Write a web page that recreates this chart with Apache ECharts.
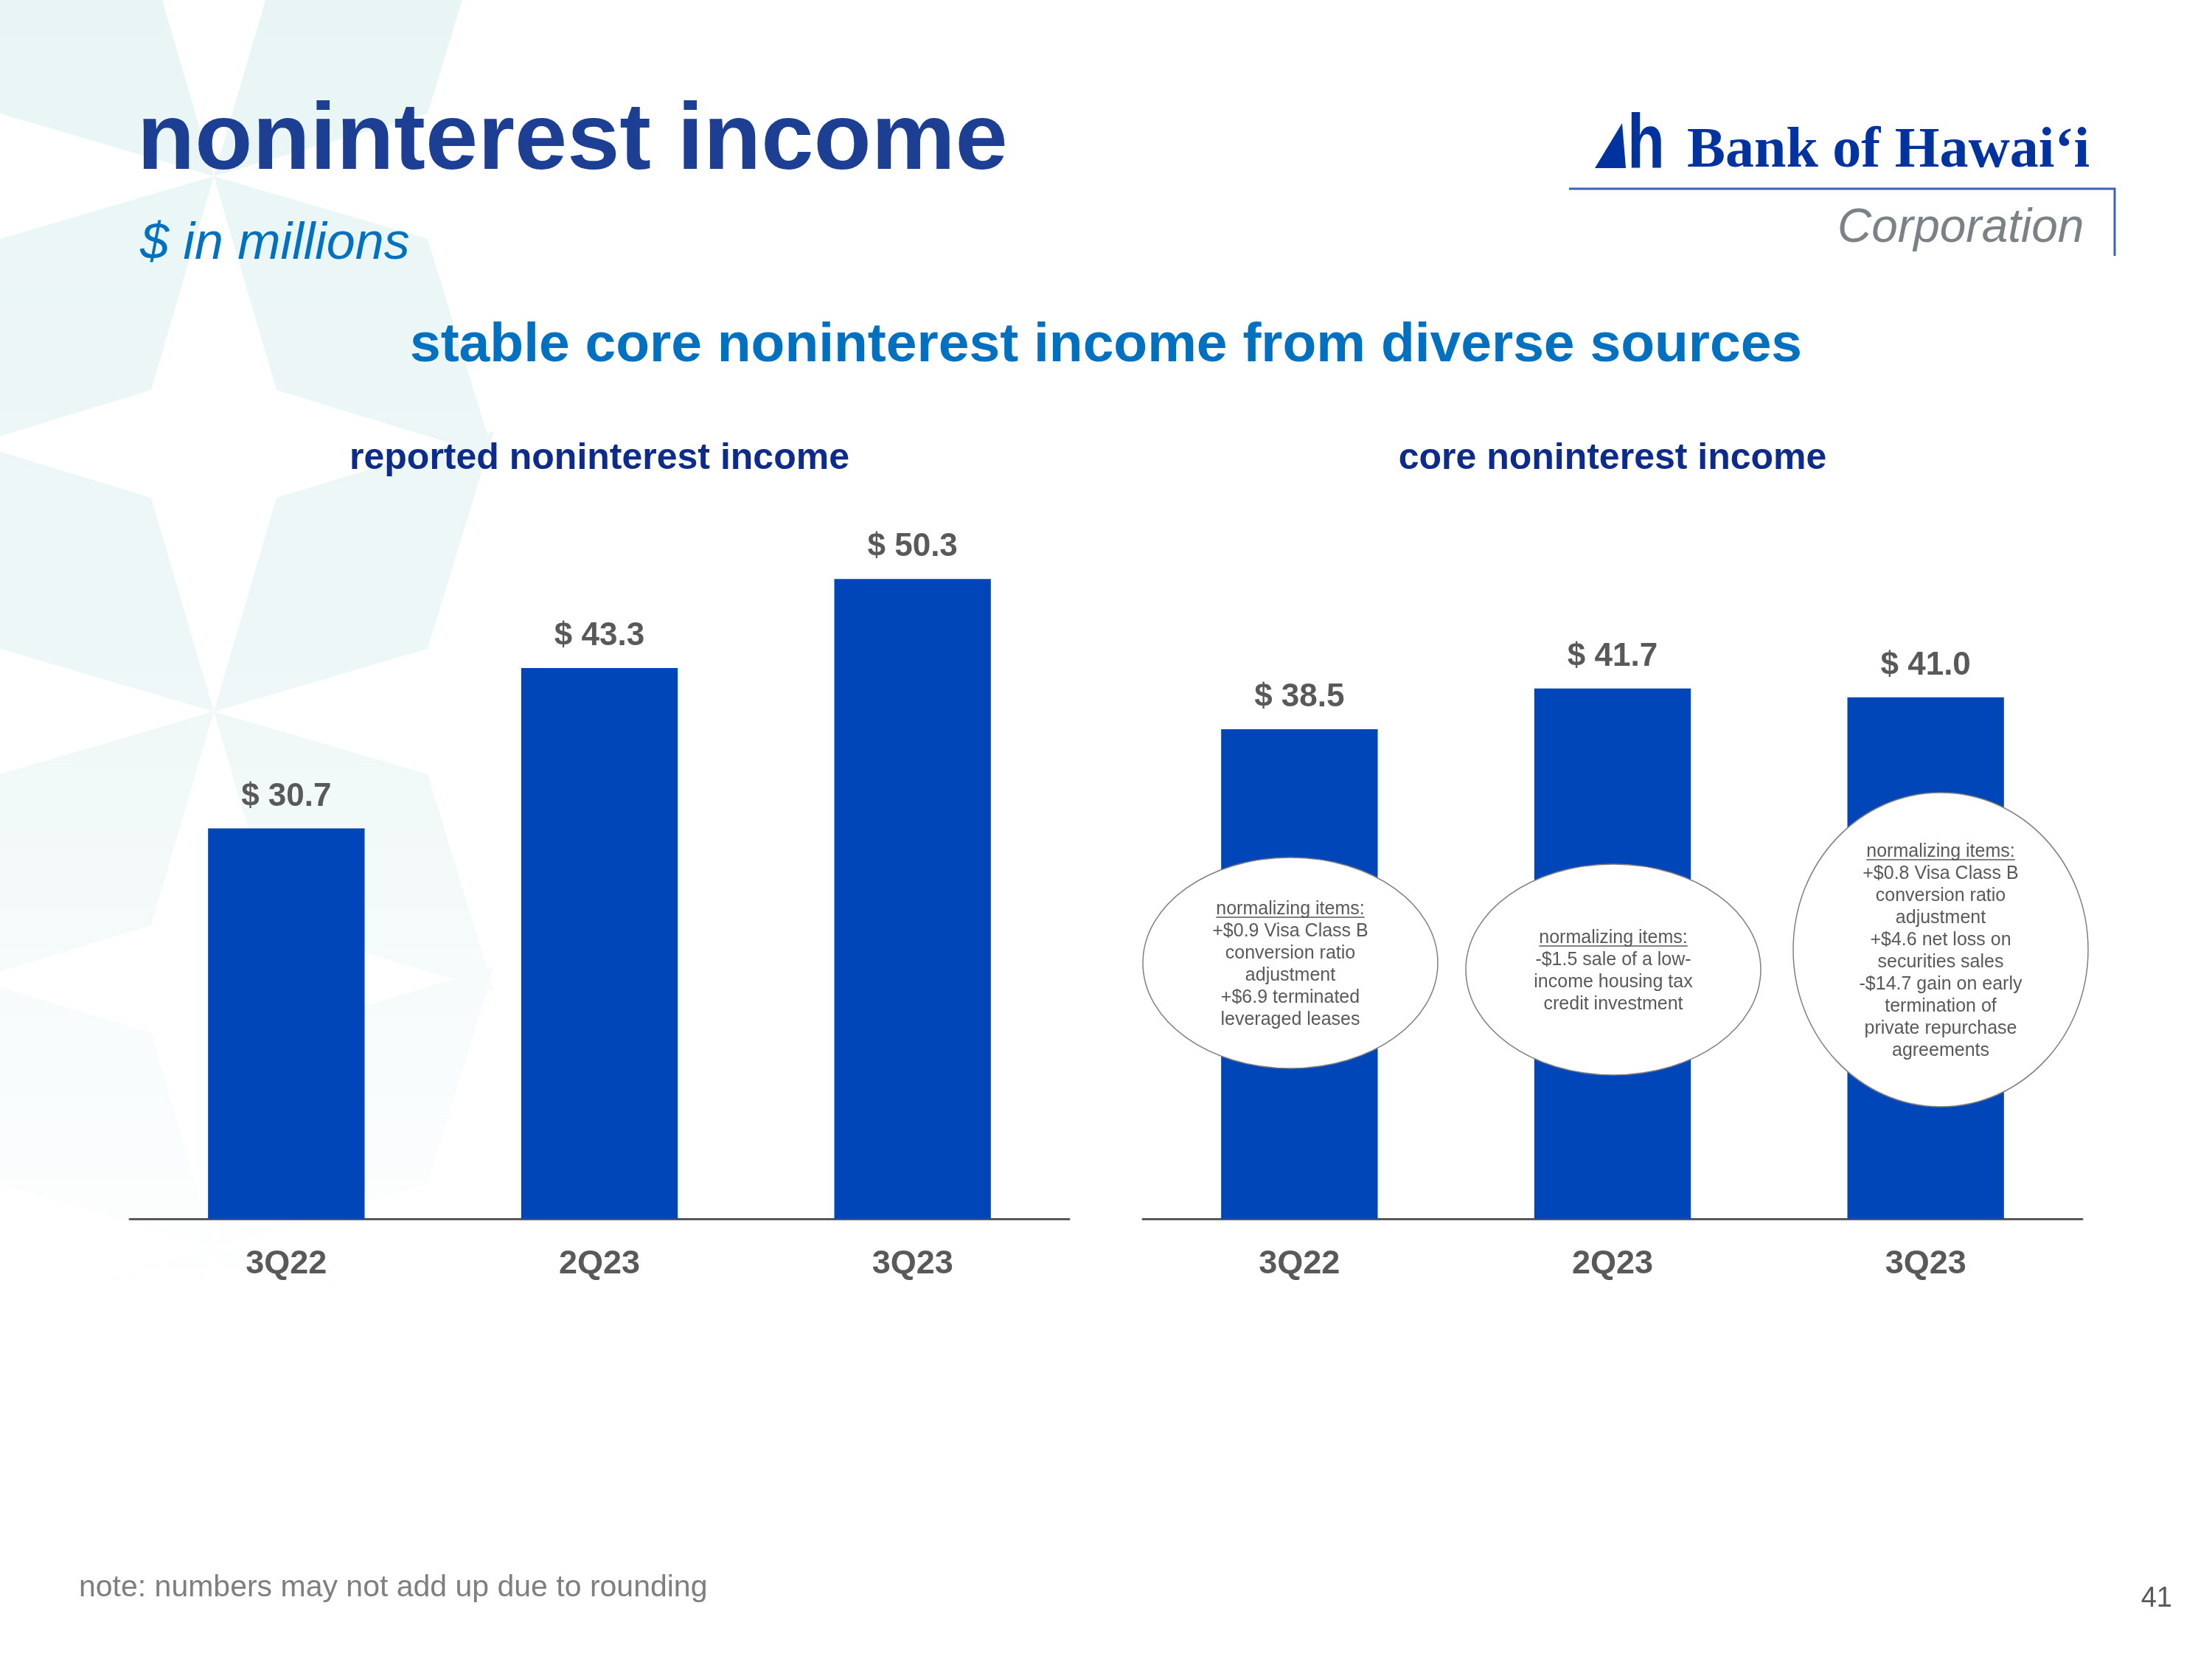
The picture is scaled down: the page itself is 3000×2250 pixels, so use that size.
<!DOCTYPE html>
<html>
<head>
<meta charset="utf-8">
<title>noninterest income</title>
<script src="https://cdn.jsdelivr.net/npm/echarts@6/dist/echarts.min.js"></script>
<style>
  html, body { margin: 0; padding: 0; background: #fff; }
  #chart { width: 3000px; height: 2250px; }
</style>
</head>
<body>
<div id="chart"></div>
<script>
// $ in millions
const categories = ['3Q22', '2Q23', '3Q23']
const reportedIncome = [30.7, 43.3, 50.3]
const coreIncome = [38.5, 41.7, 41.0]
const normalizingItems = [
  ['+$0.9 Visa Class B', 'conversion ratio', 'adjustment', '+$6.9 terminated', 'leveraged leases'],
  ['-$1.5 sale of a low-', 'income housing tax', 'credit investment'],
  ['+$0.8 Visa Class B', 'conversion ratio', 'adjustment', '+$4.6 net loss on', 'securities sales',
   '-$14.7 gain on early', 'termination of', 'private repurchase', 'agreements']
]

const FONT = '"Liberation Sans", Arial, sans-serif'
const SERIF = '"Liberation Serif", "Times New Roman", serif'
const GREY = '#595959'
const BAR_BLUE = '#0046b8'
const NAVY = '#0d2b8a'

// callout bubbles on the core chart (page px)
const bubbles = [
  { cx: 1750, cy: 1306, rx: 200, ry: 143 },
  { cx: 2188, cy: 1315, rx: 200, ry: 143 },
  { cx: 2632, cy: 1288, rx: 200, ry: 213 }
]

const chart = echarts.init(document.getElementById('chart'))

// text helper, y is the baseline
function txt(str, x, y, font, color, align) {
  const size = parseInt(font.match(/(\d+)px/)[1])
  return {
    type: 'text', x: x, y: y - size * 0.29, z: 50,
    style: { text: str, font: font, fill: color, textAlign: align || 'left', textVerticalAlign: 'middle' }
  }
}

function measure(str, font) {
  const ctx = document.createElement('canvas').getContext('2d')
  ctx.font = font
  return ctx.measureText(str).width
}

// faint star pattern behind the left side
const fade = new echarts.graphic.LinearGradient(0, 0, 0, 1800, [
  { offset: 0, color: '#e9f5f5' },
  { offset: 0.5, color: '#eef7f7' },
  { offset: 1, color: '#ffffff' }
], true)
const starCenters = [[290, -487], [290, 239], [290, 965], [290, 1691]]
const background = []
starCenters.forEach(function(c) {
  [[1, 1], [1, -1], [-1, 1], [-1, -1]].forEach(function(s) {
    background.push({
      type: 'polygon', z: -10, silent: true,
      shape: { points: [
        [c[0], c[1]],
        [c[0] + s[0] * 290, c[1] + s[1] * 85],
        [c[0] + s[0] * 380, c[1] + s[1] * 380],
        [c[0] + s[0] * 85, c[1] + s[1] * 290]
      ] },
      style: { fill: fade }
    })
  })
})

// bubbles with their notes
const notes = []
const noteFont = '25px ' + FONT
bubbles.forEach(function(b, i) {
  const lines = ['normalizing items:'].concat(normalizingItems[i])
  const firstY = b.cy - (lines.length - 1) / 2 * 30
  const uw = measure('normalizing items:', noteFont)
  notes.push({
    type: 'ellipse', z: 40,
    shape: { cx: b.cx, cy: b.cy, rx: b.rx, ry: b.ry },
    style: { fill: '#ffffff', stroke: '#808080', lineWidth: 1.5 }
  })
  notes.push({
    type: 'text', x: b.cx, y: b.cy + 2, z: 41,
    style: { text: lines.join('\n'), font: noteFont, fill: GREY, lineHeight: 30,
      textAlign: 'center', textVerticalAlign: 'middle' }
  })
  notes.push({
    type: 'line', z: 41,
    shape: { x1: b.cx - uw / 2, y1: firstY + 13, x2: b.cx + uw / 2, y2: firstY + 13 },
    style: { stroke: GREY, lineWidth: 1.5 }
  })
})

// logo
const logo = [
  { type: 'polygon', z: 50, shape: { points: [[2163, 228], [2200, 167], [2205, 228]] }, style: { fill: '#0033a0' } },
  { type: 'text', x: 2207, y: 228 - 104 * 0.29, z: 50, scaleX: 0.8,
    style: { text: 'h', font: 'bold 104px ' + FONT, fill: '#0033a0', textAlign: 'left', textVerticalAlign: 'middle' } },
  txt('Bank of Hawai\u02BBi', 2288, 228, 'bold 78px ' + SERIF, '#0033a0'),
  { type: 'polyline', z: 50, shape: { points: [[2128, 256], [2868, 256], [2868, 347]] }, style: { stroke: '#3a63b8', lineWidth: 3, fill: null } },
  txt('Corporation', 2492, 329, 'italic 64px ' + FONT, '#7b8286')
]

const labels = [
  txt('noninterest income', 186, 231, 'bold 128px ' + FONT, '#1c3f94'),
  txt('$ in millions', 190, 352, 'italic 70px ' + FONT, '#0070c0'),
  txt('stable core noninterest income from diverse sources', 1500, 491, 'bold 75px ' + FONT, '#0070c0', 'center'),
  txt('reported noninterest income', 813, 637, 'bold 50px ' + FONT, NAVY, 'center'),
  txt('core noninterest income', 2187, 637, 'bold 50px ' + FONT, NAVY, 'center'),
  txt('note: numbers may not add up due to rounding', 107, 2166, '41px ' + FONT, '#7f7f7f'),
  txt('41', 2946, 2180, '38px ' + FONT, GREY, 'right')
]

function xAxis(idx) {
  return {
    type: 'category', gridIndex: idx, data: categories,
    axisLine: { lineStyle: { color: GREY, width: 3 } },
    axisTick: { show: false },
    axisLabel: { fontSize: 45, fontWeight: 'bold', color: GREY, margin: 39, fontFamily: FONT }
  }
}

function barSeries(idx, values) {
  return {
    type: 'bar', xAxisIndex: idx, yAxisIndex: idx, data: values, barWidth: '50%',
    itemStyle: { color: BAR_BLUE },
    label: {
      show: true, position: 'top', distance: 21,
      fontSize: 44, fontWeight: 'bold', color: GREY, fontFamily: FONT,
      formatter: function(p) { return '$ ' + p.value.toFixed(1) }
    }
  }
}

chart.setOption({
  animation: false,
  backgroundColor: '#ffffff',
  grid: [
    { left: 176, width: 1274, top: 618, bottom: 597 },
    { left: 1550, width: 1274, top: 618, bottom: 597 }
  ],
  xAxis: [xAxis(0), xAxis(1)],
  yAxis: [
    { type: 'value', gridIndex: 0, min: 0, max: 60, show: false },
    { type: 'value', gridIndex: 1, min: 0, max: 60, show: false }
  ],
  series: [barSeries(0, reportedIncome), barSeries(1, coreIncome)],
  graphic: background.concat(notes, logo, labels)
})
</script>
</body>
</html>
